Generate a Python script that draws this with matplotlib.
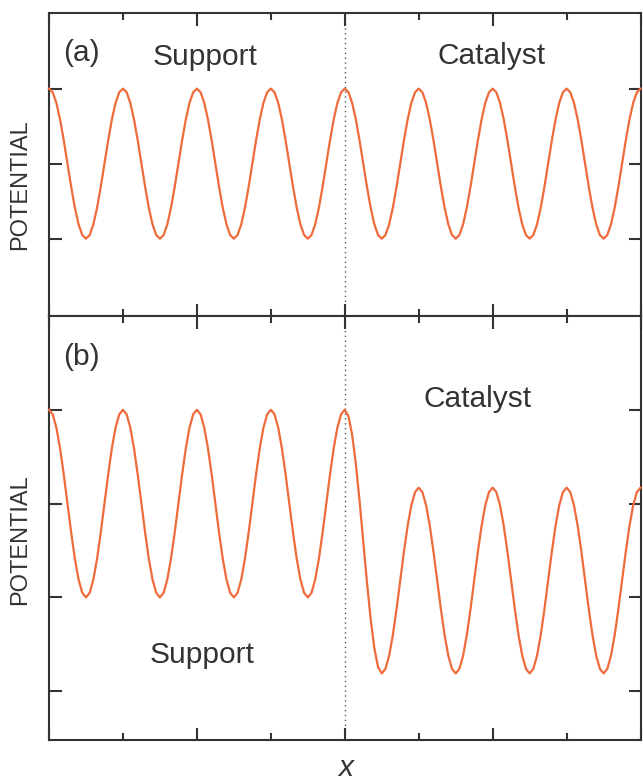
import numpy as np
import matplotlib
matplotlib.use('Agg')
import matplotlib.pyplot as plt
from matplotlib.ticker import MultipleLocator

plt.rcParams['font.family'] = ['Liberation Sans', 'DejaVu Sans']

# extrema of the potential curves (x in lattice units)
a_ext_x = [0, 0.5, 1, 1.5, 2, 2.5, 3, 3.5, 4, 4.5, 5, 5.5, 6, 6.5, 7, 7.5, 8]
a_ext_y = [1, -1, 1, -1, 1, -1, 1, -1, 1, -1, 1, -1, 1, -1, 1, -1, 1]

b_ext_x = [0, 0.5, 1, 1.5, 2, 2.5, 3, 3.5, 4, 4.5, 5, 5.5, 6, 6.5, 7, 7.5, 8]
b_ext_y = [1, -1, 1, -1, 1, -1, 1, -1, 1, -1.81, 0.17, -1.81, 0.17, -1.81, 0.17, -1.81, 0.17]

a_ticks = [-1, 0, 1]
b_ticks = [-2, -1, 0, 1]

line_col = '#F06B3C'
txt_col = '#333333'
ax_col = '#333333'


def curve(ex, ey, n=10):
    # smooth half-cosine between neighbouring extrema
    xs, ys = [], []
    for i in range(len(ex) - 1):
        t = np.linspace(0, 1, n, endpoint=False)
        xs.append(ex[i] + (ex[i + 1] - ex[i]) * t)
        ys.append(ey[i] + (ey[i + 1] - ey[i]) * (1 - np.cos(np.pi * t)) / 2)
    xs.append([ex[-1]])
    ys.append([ey[-1]])
    return np.concatenate(xs), np.concatenate(ys)


fig = plt.figure(figsize=(6.43, 7.84), dpi=100)
ax1 = fig.add_axes([0.0762, 0.597, 0.92, 0.3866])
ax2 = fig.add_axes([0.0762, 0.0561, 0.92, 0.5409])

for ax, ex, ey, yl, yt in [(ax1, a_ext_x, a_ext_y, (-2.03, 2.01), a_ticks),
                           (ax2, b_ext_x, b_ext_y, (-2.52, 2.0), b_ticks)]:
    x, y = curve(ex, ey)
    ax.plot(x, y, color=line_col, lw=1.6, clip_on=False, zorder=3)
    ax.axvline(4, color='#555555', ls=(0, (1, 2.5)), lw=1.0, zorder=1)
    ax.set_xlim(0, 8)
    ax.set_ylim(*yl)
    ax.set_yticks(yt)
    ax.xaxis.set_major_locator(MultipleLocator(2))
    ax.xaxis.set_minor_locator(MultipleLocator(1))
    ax.tick_params(which='both', direction='in', top=True, right=True,
                   labelbottom=False, labelleft=False, color=ax_col, width=1.5)
    ax.tick_params(which='major', length=9)
    ax.tick_params(which='minor', length=5)
    for s in ax.spines.values():
        s.set_color(ax_col)
        s.set_linewidth(1.5)

fs = 21.5
ax1.text(0.024, 0.866, '(a)', transform=ax1.transAxes, fontsize=fs, color=txt_col, va='center')
ax1.text(0.264, 0.855, 'Support', transform=ax1.transAxes, fontsize=fs, color=txt_col,
         ha='center', va='center')
ax1.text(0.748, 0.858, 'Catalyst', transform=ax1.transAxes, fontsize=fs, color=txt_col,
         ha='center', va='center')

ax2.text(0.024, 0.903, '(b)', transform=ax2.transAxes, fontsize=fs, color=txt_col, va='center')
ax2.text(0.725, 0.805, 'Catalyst', transform=ax2.transAxes, fontsize=fs, color=txt_col,
         ha='center', va='center')
ax2.text(0.259, 0.2, 'Support', transform=ax2.transAxes, fontsize=fs, color=txt_col,
         ha='center', va='center')

fig.text(0.032, 1 - 185 / 784, 'POTENTIAL', rotation=90, fontsize=17, color=txt_col,
         ha='center', va='center')
fig.text(0.032, 1 - 540 / 784, 'POTENTIAL', rotation=90, fontsize=17, color=txt_col,
         ha='center', va='center')
fig.text(346 / 643, 1.5 / 784, 'x', style='italic', fontsize=21.5, color=txt_col,
         ha='center', va='bottom')

fig.savefig('out.png', dpi=100)
